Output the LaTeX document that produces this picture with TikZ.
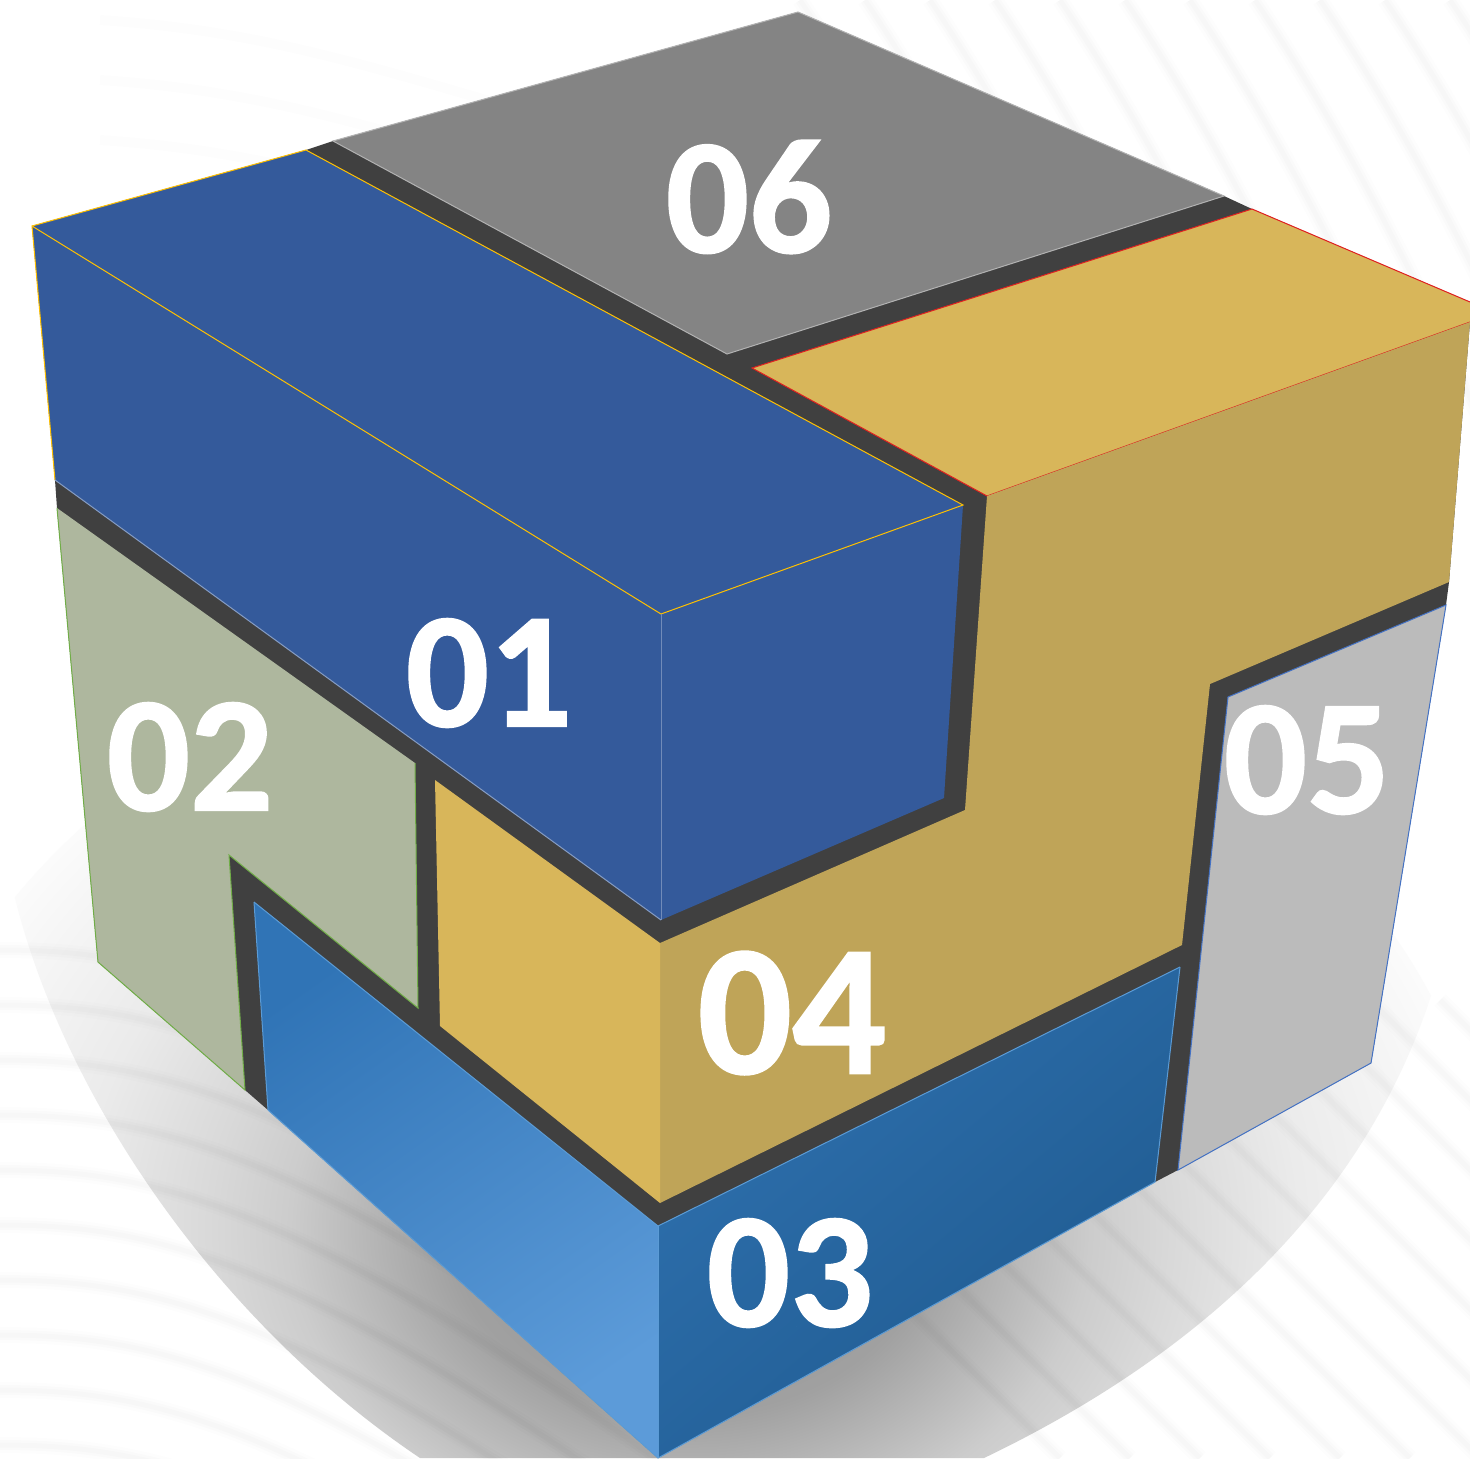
\documentclass[tikz,border=0pt]{standalone}
\usepackage{fontspec}
\setmainfont{Carlito}[BoldFeatures={FakeBold=1.2}]
\definecolor{darkgap}{HTML}{404040}
\definecolor{blueA}{HTML}{345A9B}
\definecolor{goldtop}{HTML}{D8B65A}
\definecolor{golddark}{HTML}{BFA458}
\definecolor{sage}{HTML}{AEB79E}
\definecolor{midgray}{HTML}{848484}
\definecolor{lightgray}{HTML}{BBBBBB}
\definecolor{orangeedge}{HTML}{FFC000}
\definecolor{redEdge}{HTML}{E02020}
\definecolor{greenEdge}{HTML}{70AD47}
\definecolor{blueEdge}{HTML}{4472C4}
\definecolor{skyEdge}{HTML}{5B9BD5}
\definecolor{lowA}{HTML}{3074B6}
\definecolor{lowB}{HTML}{5C9BD9}
\definecolor{lowC}{HTML}{2E70AE}
\definecolor{lowD}{HTML}{1F5A8F}
\pgfdeclareradialshading{shadowglow}{\pgfpointorigin}{%
  rgb(0bp)=(0.55,0.55,0.55);
  rgb(7.5bp)=(0.63,0.63,0.63);
  rgb(12.5bp)=(0.80,0.80,0.80);
  rgb(15bp)=(0.85,0.85,0.85);
  rgb(19bp)=(0.92,0.92,0.92);
  rgb(25bp)=(0.985,0.985,0.985);
  rgb(50bp)=(0.985,0.985,0.985)}
\tikzset{
  softa/.style={black,opacity=0.008,line width=8pt},
  softb/.style={black,opacity=0.010,line width=5pt},
  softc/.style={black,opacity=0.010,line width=2.5pt},
  face/.style={line width=0.5pt,line join=miter},
  numeral/.style={text=white,inner sep=0pt,font=\fontsize{82}{90}\selectfont\bfseries}
}
\newcommand{\softline}[1]{\draw[softa] #1; \draw[softb] #1; \draw[softc] #1;}
\begin{document}
\begin{tikzpicture}[x=0.5pt,y=-0.5pt]
\useasboundingbox (0,0) rectangle (1470,1458);
% background
\begin{scope}
  \clip (0,0) rectangle (1470,1458);
  \fill[white] (0,0) rectangle (1470,1458);
  \begin{scope}
    \clip (3,750) -- (5,850) .. controls (40,1060) and (200,1310) .. (420,1458)
      -- (984,1458) .. controls (1230,1340) and (1430,1150) .. (1462,850) -- cycle;
    \path[shading=shadowglow] (690,1230) ellipse [x radius=800,y radius=620];
  \end{scope}
  % faint wavy background lines
  \foreach \s in {800,865,...,1700} {
    \softline{(\s,0) .. controls (\s+100,150) and (\s+170,300) .. (\s+230,430)}
  }
  \foreach \s in {600,670,...,1500} {
    \softline{(\s,1000) .. controls (\s+150,1150) and (\s+300,1300) .. (\s+460,1458)}
  }
  \foreach \s in {950,1005,...,1460} {
    \softline{(0,\s) .. controls (150,\s) and (300,\s+30) .. (700,\s+320)}
  }
  \foreach \s in {20,80,140} {
    \draw[black,opacity=0.008,line width=5pt] (100,\s) .. controls (250,\s+10) and (350,\s+40) .. (520,\s+90);
  }
\end{scope}
% silhouette of the cube: shows as the dark gaps
\fill[darkgap] (32,226) -- (306,150) -- (333,141) -- (798,12) -- (1224,196) -- (1252,209) -- (1470,302)
  -- (1470,322) -- (1449,582) -- (1446,605) -- (1371,1063) -- (1178,1170) -- (1155,1182) -- (658,1458)
  -- (268,1110) -- (245,1090) -- (98,962) -- (57,508) -- (55,480) -- cycle;
% 06
\fill[midgray] (333,141) -- (798,12) -- (1224,196) -- (727,354) -- cycle;
\draw[face,color=gray!60!white] (333,141) -- (798,12) -- (1224,196) -- (727,354) -- cycle;
% 01
\fill[blueA] (32,226) -- (306,150) -- (963,505) -- (661,614) -- cycle;
\fill[blueA] (32,226) -- (661,614) -- (661,920) -- (55,480) -- cycle;
\fill[blueA] (661,614) -- (963,505) -- (944,798) -- (661,920) -- cycle;
\draw[face,color=orangeedge] (55,480) -- (32,226) -- (306,150) -- (963,505) -- (661,614) -- (32,226);
\draw[face,color=blueA!70!white] (661,614) -- (661,920);
\draw[face,color=blueA!60!white] (55,480) -- (661,920);
% 02
\fill[sage] (57,508) -- (415,763) -- (418,1008) -- (229,855) -- (245,1090) -- (98,962) -- cycle;
\draw[face,color=greenEdge] (57,508) -- (98,962) -- (245,1090) -- (229,855) -- (418,1008) -- (415,763);
% 04
\fill[goldtop] (752,368) -- (1252,209) -- (1470,302) -- (1470,322) -- (987,496) -- cycle;
\draw[face,color=redEdge] (1470,322) -- (987,496) -- (752,368) -- (1252,209) -- (1470,302);
\fill[golddark] (987,496) -- (1470,322) -- (1449,582) -- (1210,684) -- (1182,945) -- (660,1203) -- (660,943) -- (965,810) -- cycle;
\fill[goldtop] (435,780) -- (660,943) -- (660,1203) -- (440,1026) -- cycle;
% 03
\shade[top color=lowA,bottom color=lowB,shading angle=35] (254,902) -- (658,1226) -- (658,1458) -- (268,1110) -- cycle;
\shade[top color=lowC,bottom color=lowD,shading angle=40] (658,1226) -- (1180,967) -- (1155,1182) -- (658,1458) -- cycle;
\draw[face,color=skyEdge] (254,902) -- (268,1110) -- (658,1458) -- (1155,1182) -- (1180,967);
\draw[face,color=skyEdge] (254,902) -- (658,1226) -- (1180,967);
\draw[face,color=skyEdge] (658,1226) -- (658,1458);
% 05
\fill[lightgray] (1228,697) -- (1446,605) -- (1371,1063) -- (1178,1170) -- cycle;
\draw[face,color=blueEdge] (1228,697) -- (1446,605) -- (1371,1063) -- (1178,1170) -- cycle;
% labels
\node[numeral] (n06) at (749,197) {06};
\node[numeral] (n01) at (489,673) {01};
\node[numeral] (n02) at (190,757) {02};
\node[numeral,font=\fontsize{93}{100}\selectfont\bfseries] (n04) at (792,1013) {04};
\node[numeral] (n05) at (1307,760) {05};
\node[numeral] (n03) at (790,1273) {03};
\end{tikzpicture}
\end{document}
